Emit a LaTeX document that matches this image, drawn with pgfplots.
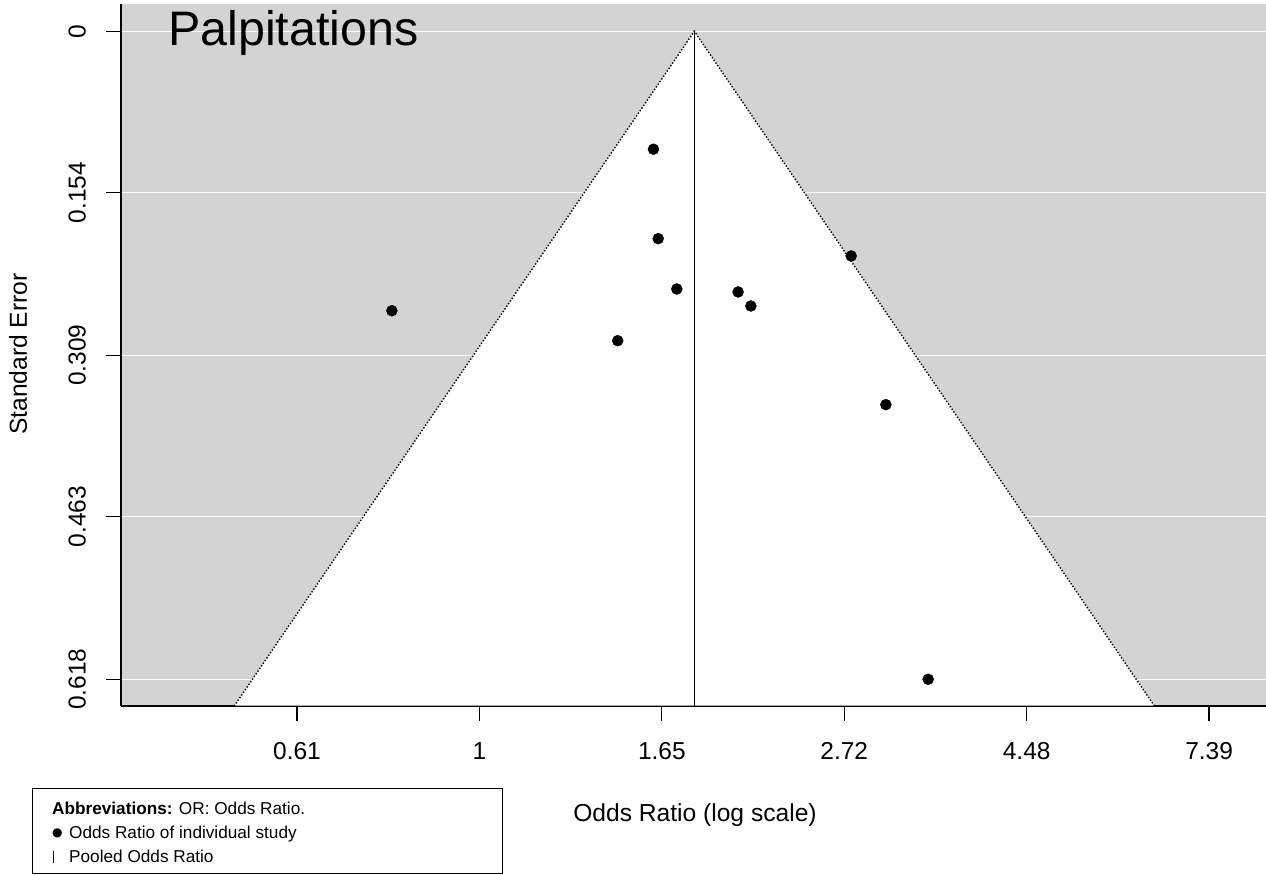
\documentclass[border=0pt]{standalone}
\usepackage{pgfplots}
\pgfplotsset{compat=1.18}
\usepackage{fontspec}
\setmainfont{Liberation Sans}
\newfontfamily\dejavu{DejaVu Sans}
\definecolor{bg}{RGB}{211,211,211}
\begin{document}
\begin{tikzpicture}[x=1pt,y=1pt]
\useasboundingbox (0,0) rectangle (1266,875);
\begin{axis}[
  at={(121pt,169pt)}, anchor=south west,
  width=1145pt, height=702pt, scale only axis,
  xmin=-0.9825, xmax=2.156, ymin=-0.026, ymax=0.6435,
  y dir=reverse,
  axis background/.style={fill=bg},
  axis x line=bottom, axis y line=left,
  axis line style={-, line width=1.2pt, black},
  xtick={-0.5,0,0.5,1,1.5,2},
  xticklabels={0.61,1,1.65,2.72,4.48,7.39},
  ytick={0,0.154,0.309,0.463,0.618},
  yticklabels={0,0.154,0.309,0.463,0.618},
  tick align=outside,
  major tick length=15pt,
  tick style={black, line width=1.2pt},
  ymajorgrids, grid style={white, line width=1.2pt},
  tick label style={font=\fontsize{24.5}{29}\selectfont, inner sep=0pt},
  yticklabel style={rotate=90, anchor=south},
  xticklabel style={anchor=north},
  yticklabel shift=20pt,
  xticklabel shift=21pt,
  xlabel={Odds Ratio (log scale)},
  ylabel={Standard Error},
  every axis x label/.style={at={(axis description cs:0.5013,-0.1648)}, anchor=base, font=\fontsize{24.6}{29}\selectfont},
  every axis y label/.style={at={(axis description cs:-0.0821,0.5014)}, rotate=90, anchor=base, font=\fontsize{24.6}{29}\selectfont},
]
% white funnel region (pooled log OR = 0.589, limits 0.589 +/- 1.96 SE)
\addplot[fill=white, draw=none] coordinates {(0.589,0) (-0.6720,0.6432) (1.8500,0.6432)};
\addplot[black, dash pattern=on 1.4pt off 1.8pt, line width=1.4pt] coordinates {(-0.6723,0.6435) (0.589,0) (1.8503,0.6435)};
\addplot[black, line width=1.2pt] coordinates {(0.589,0) (0.589,0.6435)};
\addplot[only marks, mark=*, mark size=5.5pt, black] table {
x y
0.477 0.1125
0.490 0.1978
0.541 0.2458
0.379 0.2951
-0.240 0.2665
0.709 0.2486
0.744 0.2620
1.019 0.2143
1.114 0.3561
1.230 0.6180
};
\end{axis}
\node[anchor=base west, inner sep=0pt, font=\fontsize{48.4}{58}\selectfont] at (168,829) {Palpitations};
% legend box
\draw[line width=1pt] (32,1) rectangle (502,86);
\node[anchor=base west, inner sep=0pt, font=\fontsize{17.2}{20}\selectfont] at (52,60) {\textbf{Abbreviations:} OR: Odds Ratio.};
\node[anchor=center, inner sep=0pt, font=\dejavu\fontsize{12}{14}\selectfont] at (57.3,41.7) {●};
\node[anchor=base west, inner sep=0pt, font=\fontsize{17.2}{20}\selectfont] at (69,36) {Odds Ratio of individual study};
\node[anchor=base west, inner sep=0pt] at (52.5,12) {\rule{1.3pt}{12.3pt}};
\node[anchor=base west, inner sep=0pt, font=\fontsize{17.2}{20}\selectfont] at (69,12) {Pooled Odds Ratio};
\end{tikzpicture}
\end{document}
